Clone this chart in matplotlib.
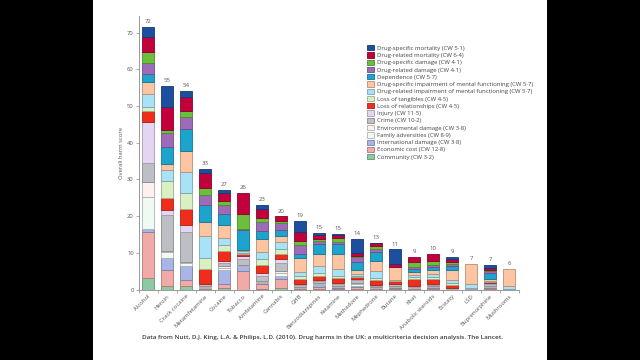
import numpy as np
import matplotlib
matplotlib.use("Agg")
import matplotlib.pyplot as plt
from matplotlib.patches import Rectangle, Patch
from matplotlib import colors as mcolors

plt.rcParams['font.family'] = ['Open Sans', 'DejaVu Sans']

drugs = ['Alcohol', 'Heroin', 'Crack cocaine', 'Metamfetamine', 'Cocaine', 'Tobacco',
         'Amfetamine', 'Cannabis', 'GHB', 'Benzodiazepines', 'Ketamine', 'Methadone',
         'Mephedrone', 'Butane', 'Khat', 'Anabolic steroids', 'Ecstasy', 'LSD',
         'Buprenorphine', 'Mushrooms']
totals = [72, 55, 54, 33, 27, 26, 23, 20, 19, 15, 15, 14, 13, 11, 9, 10, 9, 7, 7, 6]

# criterion scores per drug (bottom of the stack first)
community      = [3.2, 0.9, 0.9, 0.1, 0.4, 0.0, 0.2, 0.5, 0.1, 0.2, 0.1, 0.2, 0.1, 0.2, 0.1, 0.1, 0.0, 0.0, 0.1, 0.0]
economic_cost  = [12.4, 4.4, 1.8, 0.2, 1.2, 5.0, 1.2, 2.4, 0.2, 0.6, 0.3, 0.5, 0.2, 0.3, 0.2, 0.3, 0.1, 0.0, 0.3, 0.0]
international  = [0.9, 3.3, 3.7, 0.2, 3.8, 1.5, 0.4, 0.9, 0.2, 0.3, 0.2, 0.3, 0.1, 0.1, 0.1, 0.2, 0.1, 0.1, 0.2, 0.0]
family_adv     = [8.8, 1.5, 0.9, 0.3, 0.5, 0.1, 0.3, 0.8, 0.2, 0.4, 0.3, 0.5, 0.2, 0.3, 0.2, 0.2, 0.1, 0.0, 0.3, 0.0]
environmental  = [4.1, 0.4, 0.3, 0.1, 0.4, 0.2, 0.2, 0.4, 0.1, 0.2, 0.1, 0.2, 0.1, 0.1, 0.0, 0.1, 0.0, 0.0, 0.1, 0.1]
crime          = [5.0, 9.8, 8.1, 0.5, 0.9, 1.5, 1.5, 2.1, 0.4, 0.7, 0.5, 0.8, 0.3, 0.4, 0.2, 0.3, 0.1, 0.1, 0.5, 0.0]
injury         = [11.3, 1.3, 1.8, 0.2, 0.5, 0.9, 0.6, 1.1, 0.2, 0.3, 0.3, 0.3, 0.1, 0.2, 0.1, 0.2, 0.0, 0.1, 0.2, 0.1]
loss_relations = [2.8, 3.4, 4.4, 3.9, 2.8, 0.5, 2.4, 1.5, 1.5, 0.9, 1.4, 0.5, 1.5, 0.8, 2.0, 1.4, 0.9, 0.0, 0.3, 0.0]
loss_tangibles = [1.1, 4.6, 4.5, 3.2, 1.5, 0.3, 1.4, 1.2, 0.7, 0.8, 0.6, 0.3, 0.6, 0.1, 0.4, 0.6, 0.5, 0.0, 0.1, 0.0]
dr_impairment  = [3.6, 2.9, 5.7, 5.9, 2.1, 0.4, 2.0, 2.0, 1.1, 2.0, 1.8, 0.7, 1.8, 0.2, 0.6, 0.9, 0.9, 1.1, 0.2, 0.7]
ds_impairment  = [3.4, 1.7, 5.7, 3.9, 3.4, 0.3, 3.5, 1.7, 3.9, 3.4, 4.2, 1.1, 2.7, 3.4, 0.9, 0.9, 2.5, 5.6, 0.6, 4.6]
dependence     = [2.1, 4.5, 5.9, 4.5, 3.0, 5.6, 2.2, 1.6, 1.2, 2.7, 2.5, 2.0, 2.5, 0.0, 0.9, 0.8, 1.2, 0.0, 1.6, 0.0]
dr_damage      = [2.9, 4.0, 3.2, 2.7, 2.5, 0.3, 2.5, 1.8, 2.2, 0.8, 0.6, 1.4, 0.9, 0.0, 0.5, 0.6, 0.5, 0.0, 0.5, 0.0]
ds_damage      = [3.2, 0.7, 1.8, 1.9, 1.0, 3.9, 1.2, 0.6, 1.2, 0.4, 1.2, 0.4, 0.7, 0.0, 1.4, 1.2, 0.6, 0.0, 0.3, 0.0]
dr_mortality   = [3.9, 6.4, 3.8, 4.1, 2.2, 5.9, 2.4, 1.3, 2.5, 1.1, 0.7, 0.7, 0.8, 0.9, 1.2, 2.0, 0.7, 0.0, 0.6, 0.0]
ds_mortality   = [2.9, 5.7, 1.5, 1.1, 0.9, 0.0, 1.0, 0.0, 3.0, 0.7, 0.2, 3.8, 0.2, 3.9, 0.0, 0.0, 0.7, 0.0, 0.7, 0.0]

labels = ['Community (CW 3·2)', 'Economic cost (CW 12·8)', 'International damage (CW 3·8)',
          'Family adversities (CW 8·9)', 'Environmental damage (CW 3·8)', 'Crime (CW 10·2)',
          'Injury (CW 11·5)', 'Loss of relationships (CW 4·5)', 'Loss of tangibles (CW 4·5)',
          'Drug-related impairment of mental functioning (CW 5·7)',
          'Drug-specific impairment of mental functioning (CW 5·7)', 'Dependence (CW 5·7)',
          'Drug-related damage (CW 4·1)', 'Drug-specific damage (CW 4·1)',
          'Drug-related mortality (CW 6·4)', 'Drug-specific mortality (CW 5·1)']
palette = ['#8ccaa2', '#f2aaa6', '#a9b5e6', '#effaf3', '#fdf0ef', '#bdbfc5',
           '#e2d6f2', '#f02c1c', '#d9f1c2', '#a9e1f6', '#fdc5a2', '#1ca4cc',
           '#9d6cb8', '#6cbf3c', '#c2003c', '#1d4f9f']

series = [community, economic_cost, international, family_adv, environmental, crime,
          injury, loss_relations, loss_tangibles, dr_impairment, ds_impairment,
          dependence, dr_damage, ds_damage, dr_mortality, ds_mortality]

fig = plt.figure(figsize=(6.4, 3.6), dpi=100, facecolor='black')
fig.patches.append(Rectangle((93/640, 0), (547-93)/640, 1, transform=fig.transFigure,
                             facecolor='white', edgecolor='none', zorder=-5))

ax = fig.add_axes([138.5/640, 1-289.5/360, 380/640, 273.5/360])
ax.set_facecolor('none')

x = np.arange(len(drugs))
bottom = np.zeros(len(drugs))
handles = []
for vals, col, lab in zip(series, palette, labels):
    vals = np.array(vals)
    edge = np.array(mcolors.to_rgb(col)) * 0.72
    lw = np.where(vals > 0, 0.6, 0)
    ax.bar(x, vals, bottom=bottom, width=0.66, color=col, edgecolor=edge, linewidth=lw)
    handles.append(Patch(facecolor=col, edgecolor=edge, linewidth=0.6, label=lab))
    bottom += vals

for xi, b, t in zip(x, bottom, totals):
    ax.text(xi, b + 0.8, str(t), ha='center', va='bottom', fontsize=4.3, color='#555555')

ax.set_xlim(-0.5, len(drugs) - 0.5)
ax.set_ylim(0, 74.5)
ax.set_yticks(range(0, 71, 10))
ax.set_xticks(x)
ax.set_xticklabels(drugs, rotation=45, ha='right', rotation_mode='anchor')
ax.set_xticks(np.arange(-0.5, len(drugs)), minor=True)
ax.tick_params(axis='x', which='major', length=0, pad=3, labelsize=4.2, labelcolor='#555555')
ax.tick_params(axis='x', which='minor', length=2, width=0.5, color='#888888')
ax.tick_params(axis='y', length=2, width=0.5, color='#888888', pad=1.5,
               labelsize=4.2, labelcolor='#555555')
ax.set_ylabel('Overall harm score', fontsize=4.2, color='#555555', labelpad=2)
for s in ['top', 'right']:
    ax.spines[s].set_visible(False)
for s in ['left', 'bottom']:
    ax.spines[s].set_color('#888888')
    ax.spines[s].set_linewidth(0.6)

leg = fig.legend(handles=handles[::-1], loc='upper left', bbox_to_anchor=(364/640, 1-42/360),
                 frameon=False, fontsize=4.3, labelspacing=0.26, handlelength=1.1,
                 handleheight=1.0, handletextpad=0.5, borderpad=0)
for t in leg.get_texts():
    t.set_color('#444444')

fig.text(322/640, 1-337/360,
         'Data from Nutt, D.J. King, L.A. & Philips, L.D. (2010). Drug harms in the UK: '
         'a multicriteria decision analysis. The Lancet.',
         ha='center', va='center', fontsize=4.6, fontweight='semibold', color='#3a3a3a')

fig.savefig('out.png', dpi=100, facecolor=fig.get_facecolor())
